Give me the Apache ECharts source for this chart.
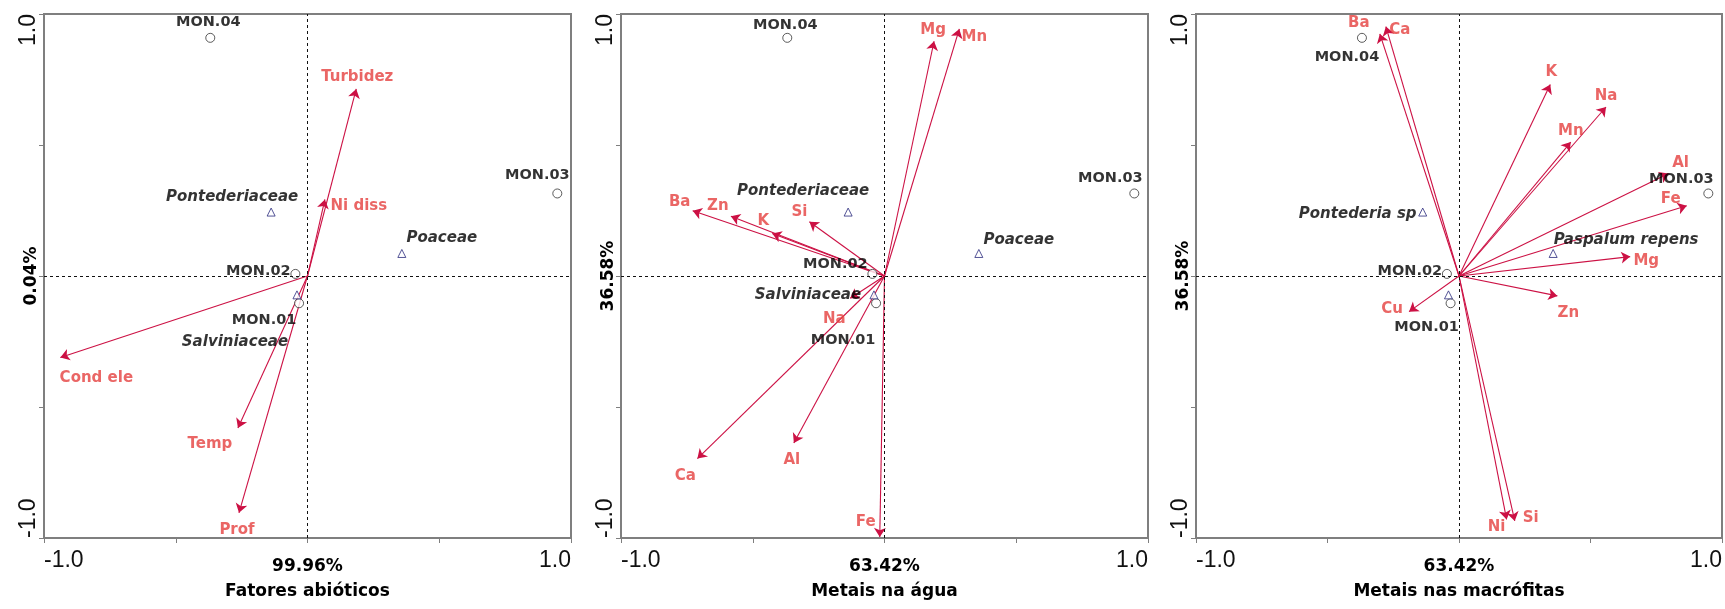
<!DOCTYPE html>
<html><head><meta charset="utf-8">
<script src="https://cdn.jsdelivr.net/npm/echarts@6/dist/echarts.min.js"></script>
<style>html,body{margin:0;padding:0;background:#fff}#c{width:1725px;height:609px}</style>
</head><body><div id="c"></div>
<script>
// ---------- data ----------
const siteNames = ['MON.01', 'MON.02', 'MON.03', 'MON.04'];
const siteX = [-0.032, -0.046, 0.948, -0.369];
const siteY = [-0.104, 0.008, 0.315, 0.909];

const familyNames = ['Pontederiaceae', 'Salviniaceae', 'Poaceae'];
const macroSpeciesNames = ['Pontederia sp', '', 'Paspalum repens'];
const speciesX = [-0.138, -0.040, 0.358];
const speciesY = [0.244, -0.072, 0.086];

const abioticVars = ['Turbidez', 'Ni diss', 'Cond ele', 'Temp', 'Prof'];
const abioticX = [0.185, 0.066, -0.938, -0.264, -0.260];
const abioticY = [0.714, 0.292, -0.311, -0.580, -0.904];

const waterVars = ['Mg', 'Mn', 'Ba', 'Zn', 'K', 'Si', 'Na', 'Ca', 'Al', 'Fe'];
const waterX = [0.188, 0.284, -0.728, -0.583, -0.426, -0.285, -0.130, -0.710, -0.344, -0.018];
const waterY = [0.896, 0.943, 0.249, 0.228, 0.162, 0.207, -0.085, -0.697, -0.637, -0.996];

const macroVars = ['Ba', 'Ca', 'K', 'Na', 'Mn', 'Al', 'Fe', 'Mg', 'Zn', 'Cu', 'Ni', 'Si'];
const macroX = [-0.301, -0.278, 0.347, 0.559, 0.425, 0.797, 0.866, 0.651, 0.374, -0.190, 0.181, 0.212];
const macroY = [0.924, 0.952, 0.731, 0.645, 0.511, 0.391, 0.268, 0.074, -0.076, -0.136, -0.929, -0.935];

const panelTitles = ['Fatores abióticos', 'Metais na água', 'Metais nas macrófitas'];
const xPctLabels = ['99.96%', '63.42%', '63.42%'];
const yPctLabels = ['0.04%', '36.58%', '36.58%'];
const endTickLabels = ['-1.0', '1.0'];

// ---------- layout / style (not data) ----------
const gridBoxes = [{left: 44, width: 527}, {left: 621, width: 527}, {left: 1196, width: 526}];
const gridTop = 14, gridHeight = 524;
const siteLabelOffsets = [
  [[-35, 17], [-37, -3], [-20, -18], [-2, -16]],
  [[-33, 37], [-37, -10], [-24, -15], [-2, -13]],
  [[-24, 24], [-37, -3], [-27, -14], [-15, 19]]
];
const speciesLabelOffsets = [
  [[-39, -15], [-62, 47], [40, -15]],
  [[-45, -21], [-66, 0], [40, -13]],
  [[-65, 2], [0, 0], [73, -13]]
];
const varLabelOffsets = [
  [[1, -12], [34, 7], [36, 21], [-28, 16], [-2, 17]],
  [[-1, -11], [15, 8], [-13, -9], [-13, -10], [-9, -12], [-10, -10], [-16, 21], [-12, 17], [-2, 17], [-14, -15]],
  [[-21, -11], [14, 4], [1, -12], [0, -11], [0, -11], [12, -10], [-16, -7], [16, 4], [11, 17], [-17, -3], [-10, 8], [16, -3]]
];

const panels = [
  {vars: abioticVars, vx: abioticX, vy: abioticY, spNames: familyNames},
  {vars: waterVars, vx: waterX, vy: waterY, spNames: familyNames},
  {vars: macroVars, vx: macroX, vy: macroY, spNames: macroSpeciesNames}
];

const FRAME = '#7f7f7f';
const ARROW = '#cc1144';
const VARLBL = '#e5403f';
const FONT = 'DejaVu Sans';

const grids = [], xAxes = [], yAxes = [], series = [];
panels.forEach((p, k) => {
  grids.push({left: gridBoxes[k].left, width: gridBoxes[k].width, top: gridTop, height: gridHeight,
    show: true, borderColor: FRAME, borderWidth: 2, backgroundColor: 'transparent'});
  const fmtX = v => v === 0 ? '{c|' + xPctLabels[k] + '}' : (v === -1 ? endTickLabels[0] : (v === 1 ? endTickLabels[1] : ''));
  const fmtY = v => v === 0 ? '{c|' + yPctLabels[k] + '}' : (v === -1 ? endTickLabels[0] : (v === 1 ? endTickLabels[1] : ''));
  const common = {
    type: 'value', gridIndex: k, min: -1, max: 1, interval: 0.5,
    axisLine: {show: true, onZero: false, lineStyle: {color: FRAME, width: 2}},
    axisTick: {show: true, length: 5, lineStyle: {color: FRAME, width: 1}},
    splitLine: {show: false}
  };
  xAxes.push(Object.assign({}, common, {
    axisLabel: {show: true, formatter: fmtX, margin: 11, fontFamily: 'Liberation Sans', fontSize: 23, color: '#111',
      showMinLabel: true, showMaxLabel: true, alignMinLabel: 'left', alignMaxLabel: 'right',
      rich: {c: {fontFamily: FONT, fontWeight: 'bold', fontSize: 17, color: '#000', padding: [9, 0, 0, 0]}}},
    name: panelTitles[k], nameLocation: 'middle', nameGap: 45, nameMoveOverlap: false,
    nameTextStyle: {fontFamily: FONT, fontWeight: 'bold', fontSize: 17, color: '#000'}
  }));
  yAxes.push(Object.assign({}, common, {
    axisLabel: {show: true, formatter: fmtY, margin: 4, rotate: 90, fontFamily: 'Liberation Sans', fontSize: 23, color: '#111',
      showMinLabel: true, showMaxLabel: true, alignMinLabel: 'left', alignMaxLabel: 'right',
      rich: {c: {fontFamily: FONT, fontWeight: 'bold', fontSize: 17, color: '#000'}}}
  }));

  // arrows
  series.push({
    type: 'lines', coordinateSystem: 'cartesian2d', xAxisIndex: k, yAxisIndex: k, silent: true, z: 3,
    symbol: ['none', 'arrow'], symbolSize: 9,
    lineStyle: {color: ARROW, width: 1.1, opacity: 1},
    data: p.vars.map((n, i) => ({name: n, coords: [[0, 0], [p.vx[i], p.vy[i]]]}))
  });
  // arrow labels
  series.push({
    type: 'scatter', xAxisIndex: k, yAxisIndex: k, silent: true, symbolSize: 0, z: 5,
    data: p.vars.map((n, i) => ({name: n, value: [p.vx[i], p.vy[i]],
      label: {show: true, position: 'inside', offset: varLabelOffsets[k][i], formatter: n,
        color: VARLBL, fontFamily: FONT, fontWeight: 'bold', fontSize: 15}}))
  });
  // sites
  series.push({
    type: 'scatter', xAxisIndex: k, yAxisIndex: k, silent: true, symbol: 'circle', symbolSize: 9, z: 4,
    itemStyle: {color: '#fff', borderColor: '#333', borderWidth: 1},
    data: siteNames.map((n, i) => ({name: n, value: [siteX[i], siteY[i]],
      label: {show: true, position: 'inside', offset: siteLabelOffsets[k][i], formatter: n,
        color: '#000', fontFamily: FONT, fontWeight: 'bold', fontSize: 14.5}})),
    markLine: {silent: true, symbol: 'none', animation: false, label: {show: false},
      lineStyle: {type: [3, 3], color: '#111', width: 1},
      data: [{xAxis: 0}, {yAxis: 0}]}
  });
  // species
  series.push({
    type: 'scatter', xAxisIndex: k, yAxisIndex: k, silent: true, symbol: 'triangle', symbolSize: 8, z: 4,
    itemStyle: {color: '#fff', borderColor: '#2b2b7d', borderWidth: 1},
    data: p.spNames.map((n, i) => ({name: n, value: [speciesX[i], speciesY[i]],
      label: {show: n !== '', position: 'inside', offset: speciesLabelOffsets[k][i], formatter: n,
        color: '#000', fontFamily: FONT, fontWeight: 'bold', fontStyle: 'italic', fontSize: 15}}))
  });
});

const chart = echarts.init(document.getElementById('c'), null, {renderer: 'canvas'});
chart.setOption({
  animation: false,
  backgroundColor: '#fff',
  grid: grids, xAxis: xAxes, yAxis: yAxes, series: series
});
</script>
</body></html>
